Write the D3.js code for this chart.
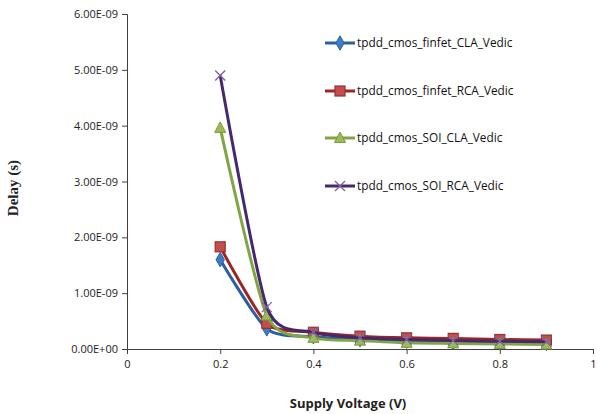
<!DOCTYPE html>
<html><head><meta charset="utf-8">
<script src="https://cdn.jsdelivr.net/npm/d3@7"></script>
<style>body{margin:0;background:#fff}</style>
</head><body>
<svg id="c" width="597" height="414"></svg>
<script>
const voltages = [0.2, 0.3, 0.4, 0.5, 0.6, 0.7, 0.8, 0.9];
const seriesNames = ["tpdd_cmos_finfet_CLA_Vedic", "tpdd_cmos_finfet_RCA_Vedic", "tpdd_cmos_SOI_CLA_Vedic", "tpdd_cmos_SOI_RCA_Vedic"];
const finfetCLA = [1.60e-9, 0.36e-9, 0.22e-9, 0.17e-9, 0.14e-9, 0.12e-9, 0.11e-9, 0.10e-9];
const finfetRCA = [1.83e-9, 0.46e-9, 0.30e-9, 0.23e-9, 0.20e-9, 0.19e-9, 0.17e-9, 0.16e-9];
const soiCLA    = [3.96e-9, 0.60e-9, 0.20e-9, 0.15e-9, 0.11e-9, 0.10e-9, 0.09e-9, 0.08e-9];
const soiRCA    = [4.90e-9, 0.75e-9, 0.30e-9, 0.20e-9, 0.17e-9, 0.15e-9, 0.14e-9, 0.13e-9];
const xTicks = [0, 0.2, 0.4, 0.6, 0.8, 1];
const yTicks = [0, 1e-9, 2e-9, 3e-9, 4e-9, 5e-9, 6e-9];

const styles = [
  {line:"#2B5F9E", fill:"#3C7DC4", stroke:"#2B5F9E", shape:"diamond"},
  {line:"#9E2522", fill:"#C0504D", stroke:"#9A2F2D", shape:"square"},
  {line:"#82A544", fill:"#9BBB59", stroke:"#7A9A3E", shape:"triangle"},
  {line:"#45296F", fill:"none",    stroke:"#8064A2", shape:"x"}
];
const allValues = [finfetCLA, finfetRCA, soiCLA, soiRCA];

const svg = d3.select("#c");
const L=127, R=593, T=14, B=349;
const x = d3.scaleLinear().domain([0,1]).range([L,R]);
const y = d3.scaleLinear().domain([0,6e-9]).range([B,T]);

const xa = svg.append("g").attr("transform",`translate(0,${B})`)
  .call(d3.axisBottom(x).tickValues(xTicks).tickSize(5).tickPadding(6).tickFormat(d=>d===0||d===1?String(d):d3.format(".1f")(d)));
const ya = svg.append("g").attr("transform",`translate(${L},0)`)
  .call(d3.axisLeft(y).tickValues(yTicks).tickSize(5).tickPadding(4)
    .tickFormat(d=> d===0 ? "0.00E+00" : (d/1e-9).toFixed(2)+"E-09"));
[xa,ya].forEach(g=>{
  g.select(".domain").attr("stroke","#404040");
  g.selectAll(".tick line").attr("stroke","#404040");
  g.selectAll("text").attr("font-family","Open Sans, Liberation Sans, sans-serif").attr("font-size","11px").attr("fill","#222");
});

svg.append("text").attr("x",348).attr("y",408).attr("text-anchor","middle")
  .attr("font-family","Open Sans, Liberation Sans, sans-serif").attr("font-weight","bold").attr("font-size","13px").attr("fill","#222")
  .text("Supply Voltage (V)");
svg.append("text").attr("transform","translate(18,188) rotate(-90)").attr("text-anchor","middle")
  .attr("font-family","Liberation Serif, Times New Roman, serif").attr("font-weight","bold").attr("font-size","15px").attr("fill","#222")
  .text("Delay (s)");

const line = d3.line().x(d=>x(d[0])).y(d=>y(d[1])).curve(d3.curveCardinal.tension(0.3));

function marker(g, s, cx, cy){
  if(s.shape==="diamond"){
    g.append("path").attr("d",d3.symbol(d3.symbolDiamond,60)()).attr("transform",`translate(${cx},${cy})`)
      .attr("fill",s.fill).attr("stroke",s.stroke).attr("stroke-width",1);
  } else if(s.shape==="square"){
    g.append("rect").attr("x",cx-5).attr("y",cy-5).attr("width",10).attr("height",10)
      .attr("fill",s.fill).attr("stroke",s.stroke).attr("stroke-width",1.2);
  } else if(s.shape==="triangle"){
    g.append("path").attr("d",`M${cx},${cy-6}L${cx+5.5},${cy+4.5}L${cx-5.5},${cy+4.5}Z`)
      .attr("fill",s.fill).attr("stroke",s.stroke).attr("stroke-width",1);
  } else {
    g.append("path").attr("d",`M${cx-5},${cy-5}L${cx+5},${cy+5}M${cx-5},${cy+5}L${cx+5},${cy-5}`)
      .attr("stroke",s.stroke).attr("stroke-width",1.4).attr("fill","none");
  }
}

allValues.forEach((vals,i)=>{
  const s = styles[i];
  const data = voltages.map((v,j)=>[v, vals[j]]);
  const g = svg.append("g");
  g.append("path").datum(data).attr("d",line).attr("fill","none").attr("stroke",s.line).attr("stroke-width",3).attr("stroke-linejoin","round");
  data.forEach(d=>marker(g,s,x(d[0]),y(d[1])));
});

const legY = [43, 91, 138, 186];
seriesNames.forEach((n,i)=>{
  const s = styles[i];
  const g = svg.append("g");
  g.append("line").attr("x1",325).attr("x2",355).attr("y1",legY[i]).attr("y2",legY[i]).attr("stroke",s.line).attr("stroke-width",3);
  marker(g,s,340,legY[i]);
  g.append("text").attr("x",357).attr("y",legY[i]+4).attr("font-family","Open Sans, Liberation Sans, sans-serif").attr("font-size","11.8px").attr("fill","#111").text(n);
});
</script>
</body></html>
